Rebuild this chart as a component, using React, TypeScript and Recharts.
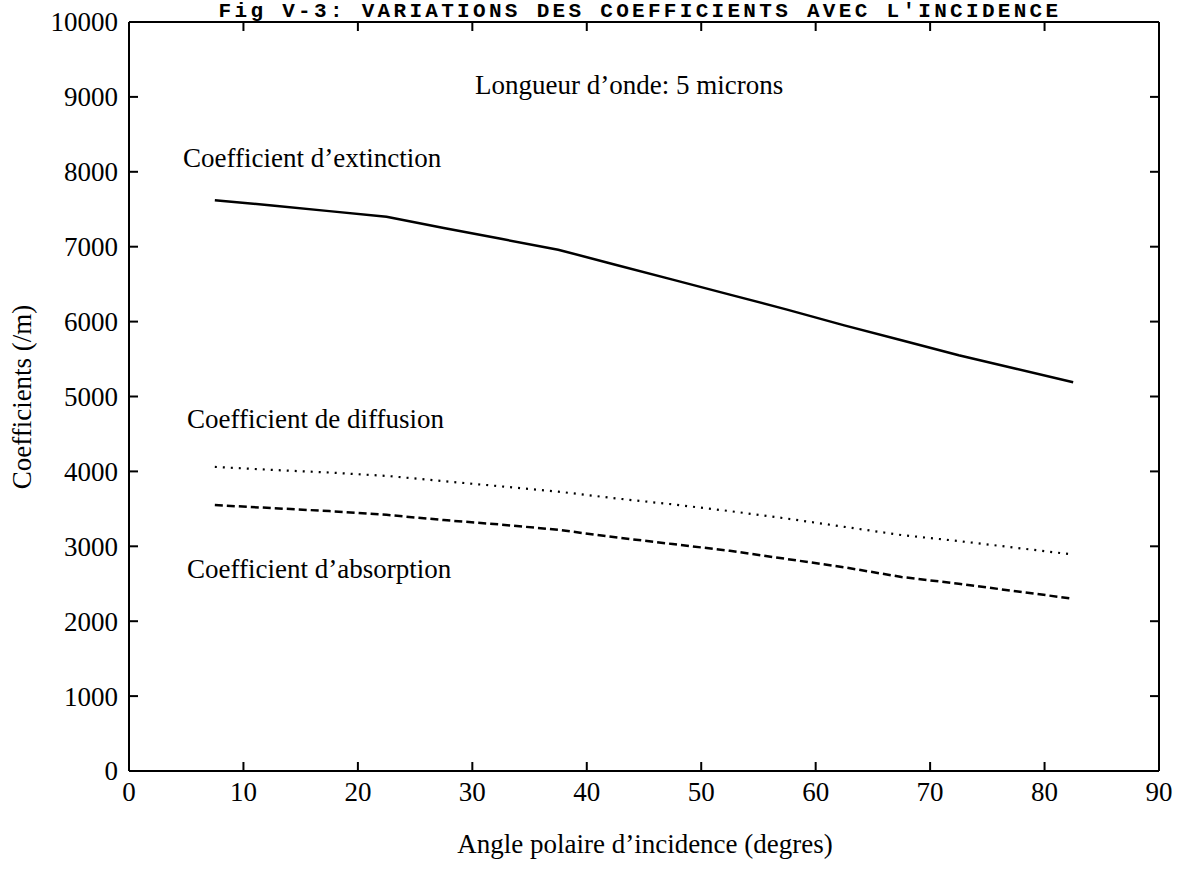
import React from 'react';
import { LineChart, Line, XAxis, YAxis, ReferenceLine } from 'recharts';

const angles = [7.5, 12.5, 17.5, 22.5, 27.5, 32.5, 37.5, 42.5, 47.5, 52.5, 57.5, 62.5, 67.5, 72.5, 77.5, 82.5];
const extinction = [7620, 7550, 7475, 7400, 7250, 7105, 6960, 6760, 6560, 6360, 6160, 5950, 5750, 5550, 5370, 5190];
const diffusion = [4060, 4020, 3985, 3940, 3870, 3800, 3730, 3640, 3560, 3470, 3370, 3260, 3150, 3070, 2980, 2890];
const absorption = [3550, 3510, 3470, 3420, 3350, 3290, 3220, 3120, 3030, 2940, 2830, 2720, 2590, 2500, 2400, 2300];

const xTicks = [0, 10, 20, 30, 40, 50, 60, 70, 80, 90];
const yTicks = [0, 1000, 2000, 3000, 4000, 5000, 6000, 7000, 8000, 9000, 10000];

const data = angles.map((a, i) => ({
  angle: a,
  extinction: extinction[i],
  diffusion: diffusion[i],
  absorption: absorption[i],
}));

const W = 1179;
const H = 878;
const MARGIN = { top: 22, right: 20, bottom: 67, left: 0 };
const X_AXIS_H = 40;
const Y_AXIS_W = 129;
// plot box edges, follows from the sizes above
const PLOT = {
  left: MARGIN.left + Y_AXIS_W,
  right: W - MARGIN.right,
  top: MARGIN.top,
  bottom: H - MARGIN.bottom - X_AXIS_H,
};

const SERIF = '"Liberation Serif", "Times New Roman", serif';
const FS = 27;
const GAP = 11;
const TICK_LEN = 9;

// tick label plus inward tick marks on both opposite sides of the frame
function FrameTick(props: any) {
  const { x, y, payload, side } = props;
  const st = { stroke: '#000', strokeWidth: 2 };
  if (side === 'bottom') {
    return (
      <g>
        <line x1={x} y1={PLOT.bottom} x2={x} y2={PLOT.bottom - TICK_LEN} {...st} />
        <line x1={x} y1={PLOT.top} x2={x} y2={PLOT.top + TICK_LEN} {...st} />
        <text x={x} y={PLOT.bottom + GAP} dy="0.71em" textAnchor="middle" fontFamily={SERIF} fontSize={FS} fill="#000">
          {payload.value}
        </text>
      </g>
    );
  }
  return (
    <g>
      <line x1={PLOT.left} y1={y} x2={PLOT.left + TICK_LEN} y2={y} {...st} />
      <line x1={PLOT.right} y1={y} x2={PLOT.right - TICK_LEN} y2={y} {...st} />
      <text x={PLOT.left - GAP} y={y} dy="0.35em" textAnchor="end" fontFamily={SERIF} fontSize={FS} fill="#000">
        {payload.value}
      </text>
    </g>
  );
}

export default function App() {
  const axisLine = { stroke: '#000', strokeWidth: 2 };
  return (
    <div style={{ position: 'absolute', left: 0, top: 0, width: W, height: H, background: '#fff' }}>
      <LineChart width={W} height={H} data={data} margin={MARGIN}>
        <XAxis
          dataKey="angle"
          type="number"
          domain={[0, 90]}
          ticks={xTicks}
          interval={0}
          height={X_AXIS_H}
          tickLine={false}
          axisLine={axisLine}
          tick={(p: any) => <FrameTick {...p} side="bottom" />}
        />
        <YAxis
          type="number"
          domain={[0, 10000]}
          ticks={yTicks}
          interval={0}
          width={Y_AXIS_W}
          tickLine={false}
          axisLine={axisLine}
          tick={(p: any) => <FrameTick {...p} side="left" />}
        />
        <ReferenceLine y={10000} stroke="#000" strokeWidth={2} />
        <ReferenceLine x={90} stroke="#000" strokeWidth={2} />
        <Line type="linear" dataKey="extinction" stroke="#000" strokeWidth={2.5} dot={false} isAnimationActive={false} />
        <Line type="linear" dataKey="diffusion" stroke="#000" strokeWidth={2.2} strokeDasharray="2 6" dot={false} isAnimationActive={false} />
        <Line type="linear" dataKey="absorption" stroke="#000" strokeWidth={2.5} strokeDasharray="8 4" dot={false} isAnimationActive={false} />
      </LineChart>

      {/* title (cut off in the scan, kept whole here), annotations and axis titles */}
      <svg width={W} height={H} style={{ position: 'absolute', left: 0, top: 0, pointerEvents: 'none' }}>
        <text
          x={640}
          y={17}
          textAnchor="middle"
          fontFamily='"Liberation Mono", monospace'
          fontSize={21}
          fontWeight="bold"
          letterSpacing={3.3}
          fill="#000"
        >
          Fig V-3: VARIATIONS DES COEFFICIENTS AVEC L'INCIDENCE
        </text>
        <text x={475} y={94} fontFamily={SERIF} fontSize={FS} fill="#000">Longueur d’onde: 5 microns</text>
        <text x={183} y={167} fontFamily={SERIF} fontSize={FS} fill="#000">Coefficient d’extinction</text>
        <text x={187} y={428} fontFamily={SERIF} fontSize={FS} fill="#000">Coefficient de diffusion</text>
        <text x={187} y={578} fontFamily={SERIF} fontSize={FS} fill="#000">Coefficient d’absorption</text>
        <text x={645} y={853} textAnchor="middle" fontFamily={SERIF} fontSize={FS} fill="#000">
          Angle polaire d’incidence (degres)
        </text>
        <text
          x={0}
          y={0}
          transform="translate(31 397) rotate(-90)"
          textAnchor="middle"
          fontFamily={SERIF}
          fontSize={FS}
          fill="#000"
        >
          Coefficients (/m)
        </text>
      </svg>
    </div>
  );
}
